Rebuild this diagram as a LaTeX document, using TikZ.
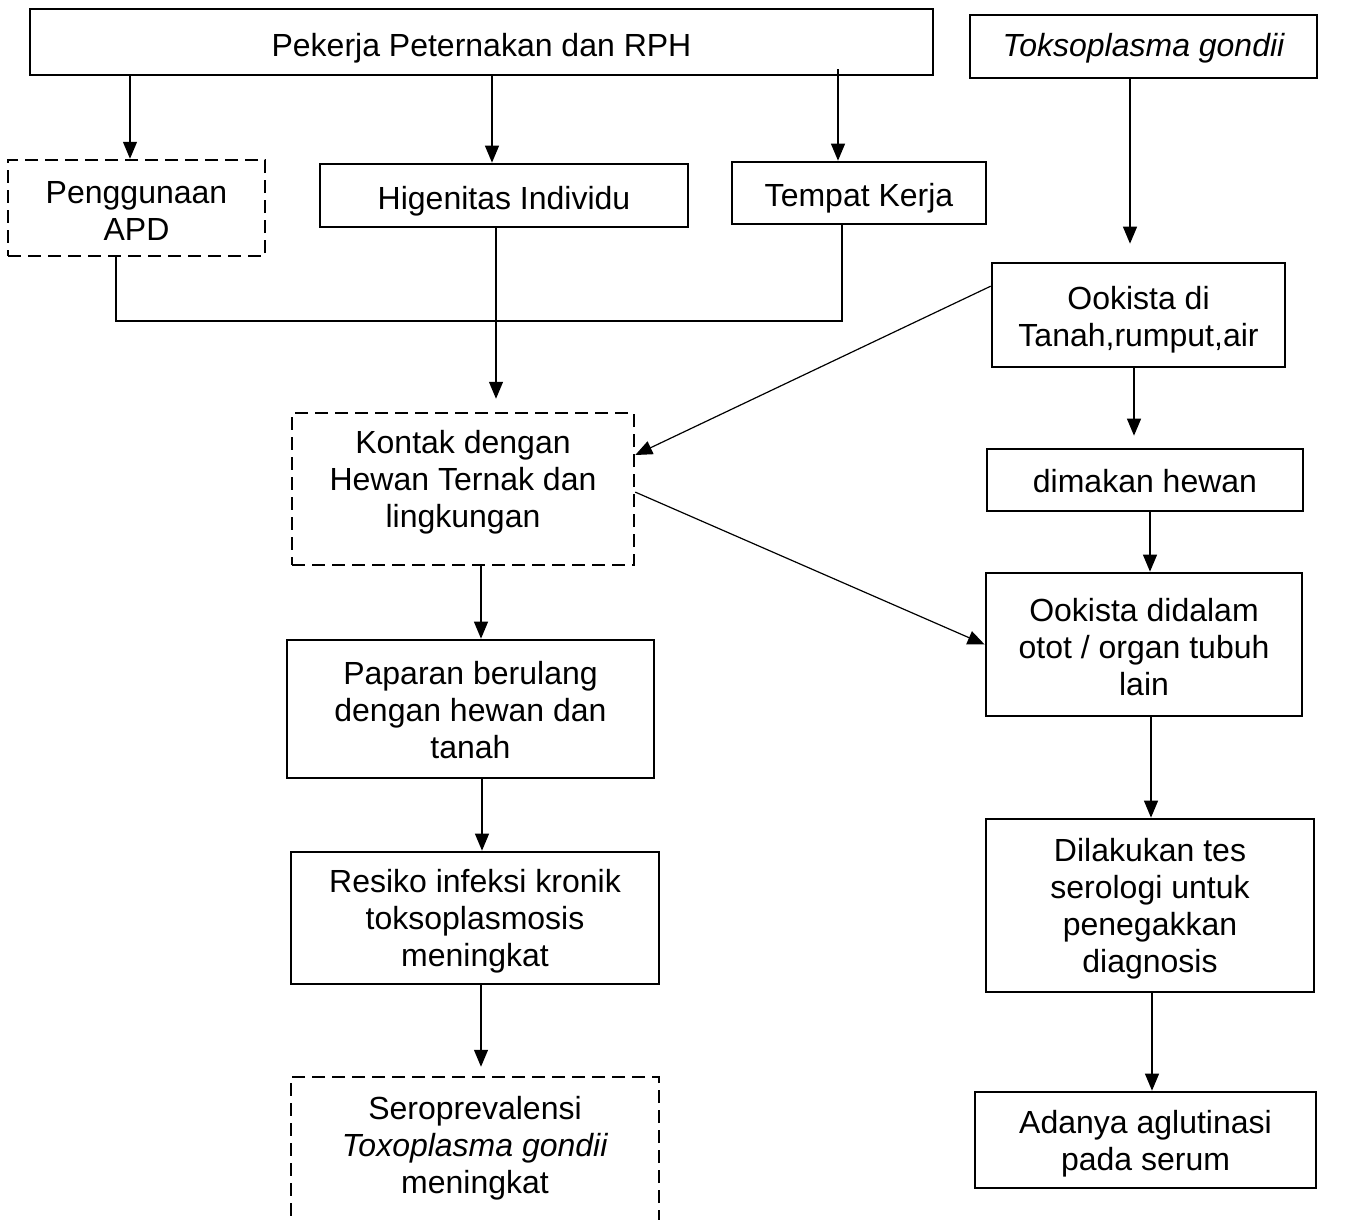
\documentclass[tikz,border=0pt]{standalone}
\usepackage{fontspec}
\setmainfont{Liberation Sans}
\usetikzlibrary{arrows.meta,calc}
\begin{document}
\begin{tikzpicture}[x=1pt,y=-1pt,
  box/.style={draw,line width=2.7pt,inner sep=0pt},
  dbox/.style={box,dash pattern=on 13pt off 7pt,line width=2.5pt},
  txt/.style={align=center,inner sep=0pt,font=\fontsize{32}{37}\selectfont},
  arr/.style={line width=1.2pt,-{Triangle[length=17pt,width=14pt]}},
  ln/.style={line width=1.2pt}]
\useasboundingbox (0,0) rectangle (1348,1219);
% boxes
\node[box,minimum width=903,minimum height=66] (top) at (481.5,42) {};
\node[box,minimum width=347,minimum height=63] (tok) at (1143.5,46.5) {};
\node[dbox,minimum width=257,minimum height=96] (pg) at (136.5,208) {};
\node[box,minimum width=368,minimum height=63] (hi) at (504,195.5) {};
\node[box,minimum width=254,minimum height=62] (tk) at (859,193) {};
\node[box,minimum width=293,minimum height=104] (oo) at (1138.5,315) {};
\node[dbox,minimum width=342,minimum height=152] (ko) at (463,489) {};
\node[box,minimum width=316,minimum height=62] (dm) at (1145,480) {};
\node[box,minimum width=316,minimum height=143] (od) at (1144,644.5) {};
\node[box,minimum width=367,minimum height=138] (pa) at (470.5,709) {};
\node[box,minimum width=368,minimum height=132] (re) at (475,918) {};
\node[dbox,minimum width=368,minimum height=158] (se) at (475,1156) {};
\node[box,minimum width=328,minimum height=173] (dl) at (1150,905.5) {};
\node[box,minimum width=341,minimum height=96] (ad) at (1145.5,1140) {};
% texts
\node[txt] (topt) at ($(top.center)+(0,6)$) {Pekerja Peternakan dan RPH};
\node[txt] (tokt) at ($(tok.center)+(0,2)$) {\itshape Toksoplasma gondii};
\node[txt] (pgt) at ($(pg.center)+(0,3)$) {Penggunaan\\APD};
\node[txt] (hit) at ($(hi.center)+(0,6)$) {Higenitas Individu};
\node[txt] (tkt) at ($(tk.center)+(0,5)$) {Tempat Kerja};
\node[txt] (oot) at ($(oo.center)+(0,5)$) {Ookista di\\Tanah,rumput,air};
\node[txt] (kot) at ($(ko.center)+(0,-7)$) {Kontak dengan\\Hewan Ternak dan\\lingkungan};
\node[txt] (dmt) at ($(dm.center)+(0,1)$) {dimakan hewan};
\node[txt] (odt) at ($(od.center)+(0,3)$) {Ookista didalam\\otot / organ tubuh\\lain};
\node[txt] (pat) at ($(pa.center)+(0,1)$) {Paparan berulang\\dengan hewan dan\\tanah};
\node[txt] (ret) at ($(re.center)+(0,3)$) {Resiko infeksi kronik\\toksoplasmosis\\meningkat};
\node[txt] (set) at (475,1148) {Seroprevalensi\\\textit{Toxoplasma gondii}\\meningkat};
\node[txt] (dlt) at ($(dl.center)+(0,3)$) {Dilakukan tes\\serologi untuk\\penegakkan\\diagnosis};
\node[txt] (adt) at ($(ad.center)+(0,3.5)$) {Adanya aglutinasi\\pada serum};
% helper coordinates
\coordinate (c130) at (130,0);
\coordinate (c492) at (492,0);
\coordinate (tks) at (838,69);
\coordinate (c1130) at (1130,0);
\coordinate (j1) at (116,321);
\coordinate (j2) at (842,321);
\coordinate (c496) at (496,0);
\coordinate (c1134) at (1134,0);
\coordinate (c1150) at (1150,0);
\coordinate (c481) at (481,0);
\coordinate (c482) at (482,0);
\coordinate (c1151) at (1151,0);
\coordinate (c1152) at (1152,0);
% connectors
\draw[arr] (top.south -| c130) -- (pg.north -| c130);
\draw[arr] (top.south -| c492) -- (hi.north -| c492);
\draw[arr] (tks) -- (tk.north -| tks);
\draw[arr,shorten >=18pt] (tok.south -| c1130) -- (oo.north -| c1130);
\draw[ln] (pg.south -| j1) -- (j1) -- (j2) -- (tk.south -| j2);
\draw[arr,shorten >=13pt] (hi.south -| c496) -- (ko.north -| c496);
\draw[arr] ($(oo.north west)!0.23!(oo.south west)$) -- ($(ko.north east)!0.28!(ko.south east)$);
\draw[arr] ($(ko.north east)!0.52!(ko.south east)$) -- (od.west);
\draw[arr,shorten >=12pt] (oo.south -| c1134) -- (dm.north -| c1134);
\draw[arr] (dm.south -| c1150) -- (od.north -| c1150);
\draw[arr] (ko.south -| c481) -- (pa.north -| c481);
\draw[arr] (pa.south -| c482) -- (re.north -| c482);
\draw[arr,shorten >=9pt] (re.south -| c481) -- (se.north -| c481);
\draw[arr] (od.south -| c1151) -- (dl.north -| c1151);
\draw[arr] (dl.south -| c1152) -- (ad.north -| c1152);
\end{tikzpicture}
\end{document}
